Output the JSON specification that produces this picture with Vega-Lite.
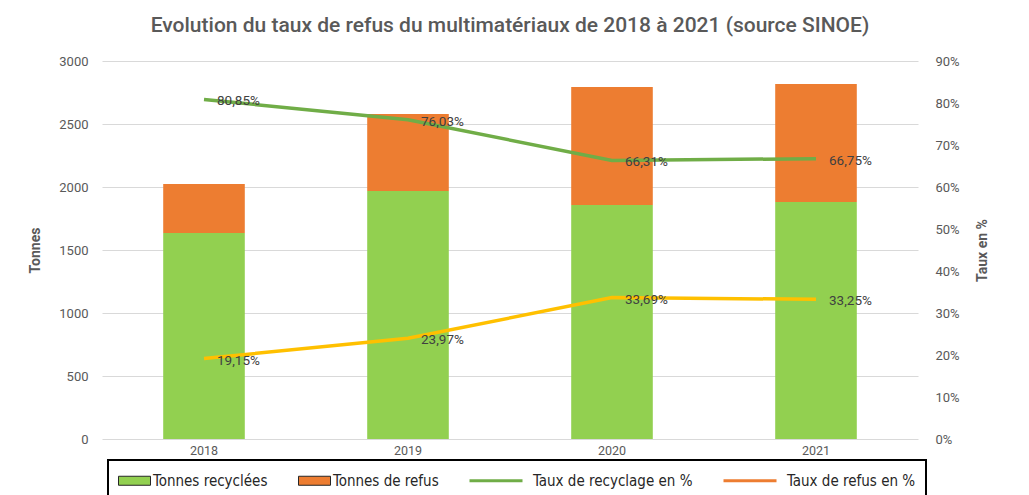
{
  "$schema": "https://vega.github.io/schema/vega-lite/v6.json",
  "width": 816,
  "height": 378,
  "autosize": {"type": "none"},
  "padding": {"left": 102, "top": 61, "right": 111, "bottom": 56},
  "background": "white",
  "title": {
    "text": "Evolution du taux de refus du multimatériaux de 2018 à 2021 (source SINOE)",
    "font": "Roboto",
    "fontSize": 21,
    "fontWeight": 500,
    "color": "#595959",
    "anchor": "middle",
    "offset": 19
  },
  "datasets": {
    "tonnes": [
      {"annee": "2018", "serie": "Tonnes recyclées", "tonnes": 1635},
      {"annee": "2018", "serie": "Tonnes de refus", "tonnes": 389},
      {"annee": "2019", "serie": "Tonnes recyclées", "tonnes": 1968},
      {"annee": "2019", "serie": "Tonnes de refus", "tonnes": 611},
      {"annee": "2020", "serie": "Tonnes recyclées", "tonnes": 1857},
      {"annee": "2020", "serie": "Tonnes de refus", "tonnes": 937},
      {"annee": "2021", "serie": "Tonnes recyclées", "tonnes": 1881},
      {"annee": "2021", "serie": "Tonnes de refus", "tonnes": 936}
    ],
    "taux": [
      {"annee": "2018", "serie": "Taux de recyclage en %", "taux": 0.8085},
      {"annee": "2019", "serie": "Taux de recyclage en %", "taux": 0.7603},
      {"annee": "2020", "serie": "Taux de recyclage en %", "taux": 0.6631},
      {"annee": "2021", "serie": "Taux de recyclage en %", "taux": 0.6675},
      {"annee": "2018", "serie": "Taux de refus en %", "taux": 0.1915},
      {"annee": "2019", "serie": "Taux de refus en %", "taux": 0.2397},
      {"annee": "2020", "serie": "Taux de refus en %", "taux": 0.3369},
      {"annee": "2021", "serie": "Taux de refus en %", "taux": 0.3325}
    ]
  },
  "layer": [
    {
      "data": {"name": "tonnes"},
      "mark": {"type": "bar"},
      "encoding": {
        "x": {
          "field": "annee", "type": "ordinal",
          "scale": {"paddingInner": 0.6, "paddingOuter": 0.3},
          "axis": {"title": null, "labelAngle": 0, "domain": false, "ticks": false, "labelPadding": 5,
                   "labelFont": "Roboto", "labelFontSize": 12.5, "labelColor": "#595959"}
        },
        "y": {
          "field": "tonnes", "type": "quantitative", "stack": "zero",
          "scale": {"domain": [0, 3000]},
          "axis": {"title": "Tonnes", "values": [0, 500, 1000, 1500, 2000, 2500, 3000], "format": "d",
                   "grid": true, "gridColor": "#d9d9d9", "domain": false, "ticks": false, "labelPadding": 14,
                   "labelFont": "Roboto", "labelFontSize": 13, "labelColor": "#595959",
                   "titleFont": "Roboto", "titleFontSize": 14, "titleFontWeight": "bold", "titleColor": "#595959",
                   "titlePadding": 16}
        },
        "color": {
          "field": "serie", "type": "nominal",
          "scale": {
            "domain": ["Tonnes recyclées", "Tonnes de refus", "Taux de recyclage en %", "Taux de refus en %"],
            "range": ["#92D050", "#ED7D31", "#70AD47", "#ED7D31"]
          },
          "legend": {
            "orient": "none", "legendX": 6, "legendY": 399, "direction": "horizontal", "title": null,
            "strokeColor": "#000000", "fillColor": "white", "padding": 10,
            "labelFont": "DejaVu Sans Condensed", "labelFontSize": 15, "labelColor": "#262626", "labelLimit": 300,
            "symbolSize": 400, "labelOffset": 2, "columnPadding": 28,
            "encode": {
              "legend": {"update": {"strokeWidth": {"value": 2}}},
              "labels": {"update": {
                "dx": {"signal": "indexof(['Tonnes recyclées','Tonnes de refus'], datum.value) >= 0 ? 12 : 8"}
              }},
              "symbols": {"update": {
                "shape": {"signal": "indexof(['Tonnes recyclées','Tonnes de refus'], datum.value) >= 0 ? 'M-1,-0.45H2.2V0.45H-1Z' : 'M-4.3,-0.16H1V0.16H-4.3Z'"},
                "stroke": {"signal": "indexof(['Tonnes recyclées','Tonnes de refus'], datum.value) >= 0 ? '#262626' : 'transparent'"},
                "strokeWidth": {"value": 1},
                "opacity": {"value": 1},
                "fillOpacity": {"value": 1}
              }}
            }
          }
        },
        "order": {"field": "serie", "sort": "descending"}
      }
    },
    {
      "data": {"name": "taux"},
      "encoding": {
        "x": {"field": "annee", "type": "ordinal"},
        "y": {
          "field": "taux", "type": "quantitative",
          "scale": {"domain": [0, 0.9]},
          "axis": {"orient": "right", "title": "Taux en %", "titleAngle": 270,
                   "values": [0, 0.1, 0.2, 0.3, 0.4, 0.5, 0.6, 0.7, 0.8, 0.9],
                   "format": ".0%", "grid": false, "domain": false, "ticks": false, "labelPadding": 17,
                   "labelFont": "Roboto", "labelFontSize": 13, "labelColor": "#595959",
                   "titleFont": "Roboto", "titleFontSize": 14, "titleFontWeight": "bold", "titleColor": "#595959",
                   "titlePadding": 30}
        }
      },
      "layer": [
        {
          "mark": {"type": "line", "strokeWidth": 3.5},
          "encoding": {
            "stroke": {
              "field": "serie", "type": "nominal",
              "scale": {"domain": ["Taux de recyclage en %", "Taux de refus en %"], "range": ["#70AD47", "#FFC000"]},
              "legend": null
            }
          }
        },
        {
          "mark": {"type": "text", "align": "left", "baseline": "middle", "dx": 13, "dy": 2,
                   "font": "Roboto", "fontSize": 13.5, "color": "#404040"},
          "encoding": {"text": {"field": "taux", "type": "quantitative", "format": ".2%"}}
        }
      ]
    }
  ],
  "resolve": {"scale": {"y": "independent"}},
  "config": {
    "view": {"stroke": null},
    "locale": {"number": {"decimal": ",", "thousands": " ", "grouping": [3], "currency": ["", " €"]}}
  }
}
